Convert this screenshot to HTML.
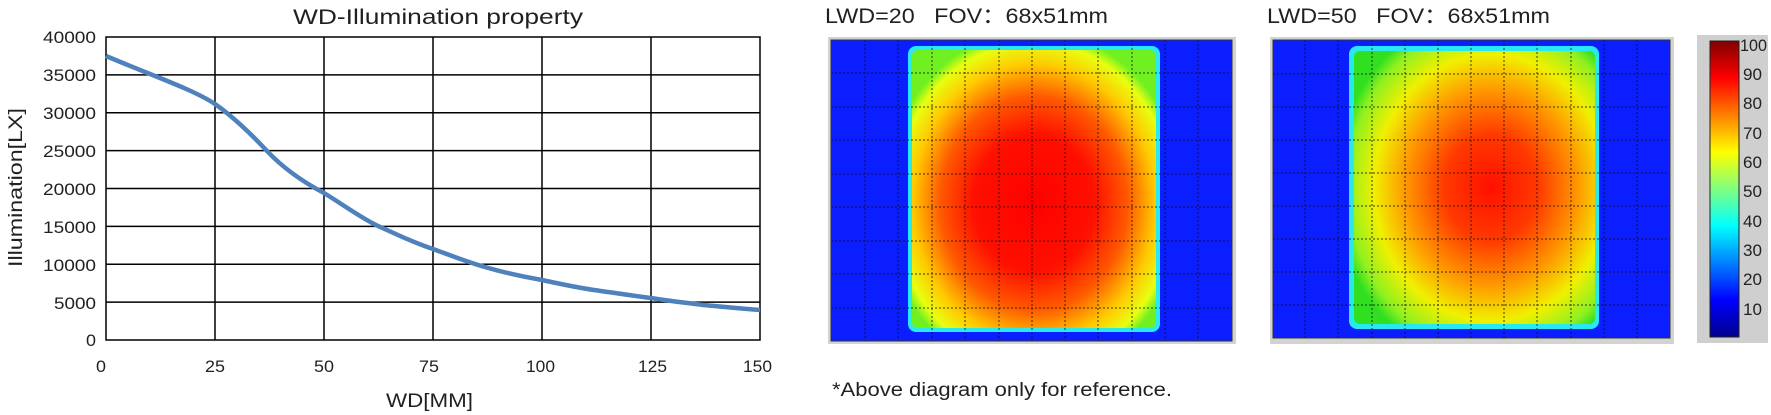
<!DOCTYPE html>
<html><head><meta charset="utf-8"><style>
html,body{margin:0;padding:0;background:#fff;}
svg{display:block;}
text{font-family:"Liberation Sans","Noto Sans CJK SC",sans-serif;fill:#231f1f;}
</style></head><body>
<svg width="1771" height="415" viewBox="0 0 1771 415" xmlns="http://www.w3.org/2000/svg">
<defs>
<radialGradient id="g1" cx="0.5" cy="0.55" r="0.62">
<stop offset="0" stop-color="#ff0000"/>
<stop offset="0.4" stop-color="#ff1000"/>
<stop offset="0.62" stop-color="#ff5a00"/>
<stop offset="0.8" stop-color="#ffc800"/>
<stop offset="0.93" stop-color="#e8ff10"/>
<stop offset="1" stop-color="#70f020"/>
</radialGradient>
<radialGradient id="g2" cx="0.57" cy="0.5" r="0.65">
<stop offset="0" stop-color="#ff1000"/>
<stop offset="0.3" stop-color="#ff3a00"/>
<stop offset="0.55" stop-color="#ff9800"/>
<stop offset="0.75" stop-color="#f0f000"/>
<stop offset="0.92" stop-color="#90f020"/>
<stop offset="1" stop-color="#30e020"/>
</radialGradient>
<linearGradient id="cb" x1="0" y1="1" x2="0" y2="0">
<stop offset="0" stop-color="#00008f"/>
<stop offset="0.125" stop-color="#0000ff"/>
<stop offset="0.375" stop-color="#00ffff"/>
<stop offset="0.625" stop-color="#ffff00"/>
<stop offset="0.875" stop-color="#ff0000"/>
<stop offset="1" stop-color="#800000"/>
</linearGradient>
</defs>

<!-- Left chart -->
<text x="293" y="24" font-size="21" textLength="290" lengthAdjust="spacingAndGlyphs">WD-Illumination property</text>
<g stroke="#000" stroke-width="1.5" fill="none">
<rect x="106" y="37" width="654" height="303"/>
<line x1="215" y1="37" x2="215" y2="340"/><line x1="324" y1="37" x2="324" y2="340"/>
<line x1="433" y1="37" x2="433" y2="340"/><line x1="542" y1="37" x2="542" y2="340"/>
<line x1="651" y1="37" x2="651" y2="340"/>
<line x1="106" y1="74.9" x2="760" y2="74.9"/><line x1="106" y1="112.8" x2="760" y2="112.8"/>
<line x1="106" y1="150.6" x2="760" y2="150.6"/><line x1="106" y1="188.5" x2="760" y2="188.5"/>
<line x1="106" y1="226.4" x2="760" y2="226.4"/><line x1="106" y1="264.3" x2="760" y2="264.3"/>
<line x1="106" y1="302.1" x2="760" y2="302.1"/>
</g>
<g font-size="17">
<text x="43" y="43" textLength="53" lengthAdjust="spacingAndGlyphs">40000</text>
<text x="43" y="81" textLength="53" lengthAdjust="spacingAndGlyphs">35000</text>
<text x="43" y="119" textLength="53" lengthAdjust="spacingAndGlyphs">30000</text>
<text x="43" y="157" textLength="53" lengthAdjust="spacingAndGlyphs">25000</text>
<text x="43" y="195" textLength="53" lengthAdjust="spacingAndGlyphs">20000</text>
<text x="43" y="233" textLength="53" lengthAdjust="spacingAndGlyphs">15000</text>
<text x="43" y="271" textLength="53" lengthAdjust="spacingAndGlyphs">10000</text>
<text x="54" y="309" textLength="42" lengthAdjust="spacingAndGlyphs">5000</text>
<text x="86" y="346" textLength="10" lengthAdjust="spacingAndGlyphs">0</text>
</g>
<g font-size="17">
<text x="96" y="372" textLength="10" lengthAdjust="spacingAndGlyphs">0</text>
<text x="205" y="372" textLength="20" lengthAdjust="spacingAndGlyphs">25</text>
<text x="314" y="372" textLength="20" lengthAdjust="spacingAndGlyphs">50</text>
<text x="419" y="372" textLength="20" lengthAdjust="spacingAndGlyphs">75</text>
<text x="526" y="372" textLength="29" lengthAdjust="spacingAndGlyphs">100</text>
<text x="638" y="372" textLength="29" lengthAdjust="spacingAndGlyphs">125</text>
<text x="743" y="372" textLength="29" lengthAdjust="spacingAndGlyphs">150</text>
</g>
<text x="386" y="407" font-size="19" textLength="87" lengthAdjust="spacingAndGlyphs">WD[MM]</text>
<text transform="translate(22,267) rotate(-90)" font-size="19" textLength="159" lengthAdjust="spacingAndGlyphs">Illumination[LX]</text>
<path d="M106,56 C125,64 140,70 150,74 C175,84 200,94 215,104 C235,118 252,135 267,151 C285,170 305,183 324,193 C345,206 360,217 376,225 C400,236 415,243 433,249 C455,257 470,263 485,267 C505,273 525,277 542,280 C565,285 580,288 594,290 C615,293 635,296 651,298 C675,302 690,303 703,305 C725,307 745,309 760,310" stroke="#4f81bd" stroke-width="4.5" fill="none"/>

<!-- Heatmap 1 -->
<text x="825" y="23" font-size="21" textLength="283" lengthAdjust="spacingAndGlyphs">LWD=20&#160;&#160; FOV：68x51mm</text>
<rect x="828" y="37" width="408" height="307" fill="#d2d2d2"/>
<rect x="831" y="40" width="401" height="301" fill="#0a1eff"/>
<rect x="908" y="46" width="252" height="286" rx="8" fill="#28e8f0"/>
<rect x="912" y="50" width="244" height="278" rx="6" fill="url(#g1)"/>
<g stroke="#111" stroke-width="1" stroke-dasharray="2,2" opacity="0.8">
<line x1="865" y1="40" x2="865" y2="341"/><line x1="898" y1="40" x2="898" y2="341"/><line x1="932" y1="40" x2="932" y2="341"/><line x1="965" y1="40" x2="965" y2="341"/><line x1="999" y1="40" x2="999" y2="341"/><line x1="1032" y1="40" x2="1032" y2="341"/><line x1="1065" y1="40" x2="1065" y2="341"/><line x1="1098" y1="40" x2="1098" y2="341"/><line x1="1132" y1="40" x2="1132" y2="341"/><line x1="1165" y1="40" x2="1165" y2="341"/><line x1="1198" y1="40" x2="1198" y2="341"/>
<line x1="831" y1="73" x2="1232" y2="73"/><line x1="831" y1="107" x2="1232" y2="107"/><line x1="831" y1="140" x2="1232" y2="140"/><line x1="831" y1="174" x2="1232" y2="174"/><line x1="831" y1="207" x2="1232" y2="207"/><line x1="831" y1="241" x2="1232" y2="241"/><line x1="831" y1="274" x2="1232" y2="274"/><line x1="831" y1="308" x2="1232" y2="308"/>
</g>
<rect x="831" y="40" width="401" height="301" fill="none" stroke="#333" stroke-width="1"/>
<text x="832" y="396" font-size="19" textLength="340" lengthAdjust="spacingAndGlyphs">*Above diagram only for reference.</text>

<!-- Heatmap 2 -->
<text x="1267" y="23" font-size="21" textLength="283" lengthAdjust="spacingAndGlyphs">LWD=50&#160;&#160; FOV：68x51mm</text>
<rect x="1270" y="37" width="404" height="307" fill="#d2d2d2"/>
<rect x="1273" y="40" width="397" height="298" fill="#0a1eff"/>
<rect x="1349" y="46" width="250" height="283" rx="8" fill="#28e8f0"/>
<rect x="1354" y="51" width="241" height="273" rx="6" fill="url(#g2)"/>
<g stroke="#111" stroke-width="1" stroke-dasharray="2,2" opacity="0.8">
<line x1="1305" y1="40" x2="1305" y2="338"/><line x1="1338" y1="40" x2="1338" y2="338"/><line x1="1372" y1="40" x2="1372" y2="338"/><line x1="1405" y1="40" x2="1405" y2="338"/><line x1="1438" y1="40" x2="1438" y2="338"/><line x1="1471" y1="40" x2="1471" y2="338"/><line x1="1504" y1="40" x2="1504" y2="338"/><line x1="1537" y1="40" x2="1537" y2="338"/><line x1="1571" y1="40" x2="1571" y2="338"/><line x1="1604" y1="40" x2="1604" y2="338"/><line x1="1637" y1="40" x2="1637" y2="338"/>
<line x1="1273" y1="74" x2="1670" y2="74"/><line x1="1273" y1="107" x2="1670" y2="107"/><line x1="1273" y1="140" x2="1670" y2="140"/><line x1="1273" y1="173" x2="1670" y2="173"/><line x1="1273" y1="206" x2="1670" y2="206"/><line x1="1273" y1="239" x2="1670" y2="239"/><line x1="1273" y1="272" x2="1670" y2="272"/><line x1="1273" y1="305" x2="1670" y2="305"/>
</g>
<rect x="1273" y="40" width="397" height="298" fill="none" stroke="#333" stroke-width="1"/>

<!-- Colorbar -->
<rect x="1697" y="35" width="71" height="308" fill="#cfcfcf"/>
<rect x="1710" y="41" width="29" height="296" fill="url(#cb)" stroke="#222" stroke-width="1"/>
<g font-size="17">
<text x="1740" y="51" textLength="27" lengthAdjust="spacingAndGlyphs">100</text>
<text x="1743" y="80" textLength="19" lengthAdjust="spacingAndGlyphs">90</text>
<text x="1743" y="109" textLength="19" lengthAdjust="spacingAndGlyphs">80</text>
<text x="1743" y="139" textLength="19" lengthAdjust="spacingAndGlyphs">70</text>
<text x="1743" y="168" textLength="19" lengthAdjust="spacingAndGlyphs">60</text>
<text x="1743" y="197" textLength="19" lengthAdjust="spacingAndGlyphs">50</text>
<text x="1743" y="227" textLength="19" lengthAdjust="spacingAndGlyphs">40</text>
<text x="1743" y="256" textLength="19" lengthAdjust="spacingAndGlyphs">30</text>
<text x="1743" y="285" textLength="19" lengthAdjust="spacingAndGlyphs">20</text>
<text x="1743" y="315" textLength="19" lengthAdjust="spacingAndGlyphs">10</text>
</g>
</svg>
</body></html>
